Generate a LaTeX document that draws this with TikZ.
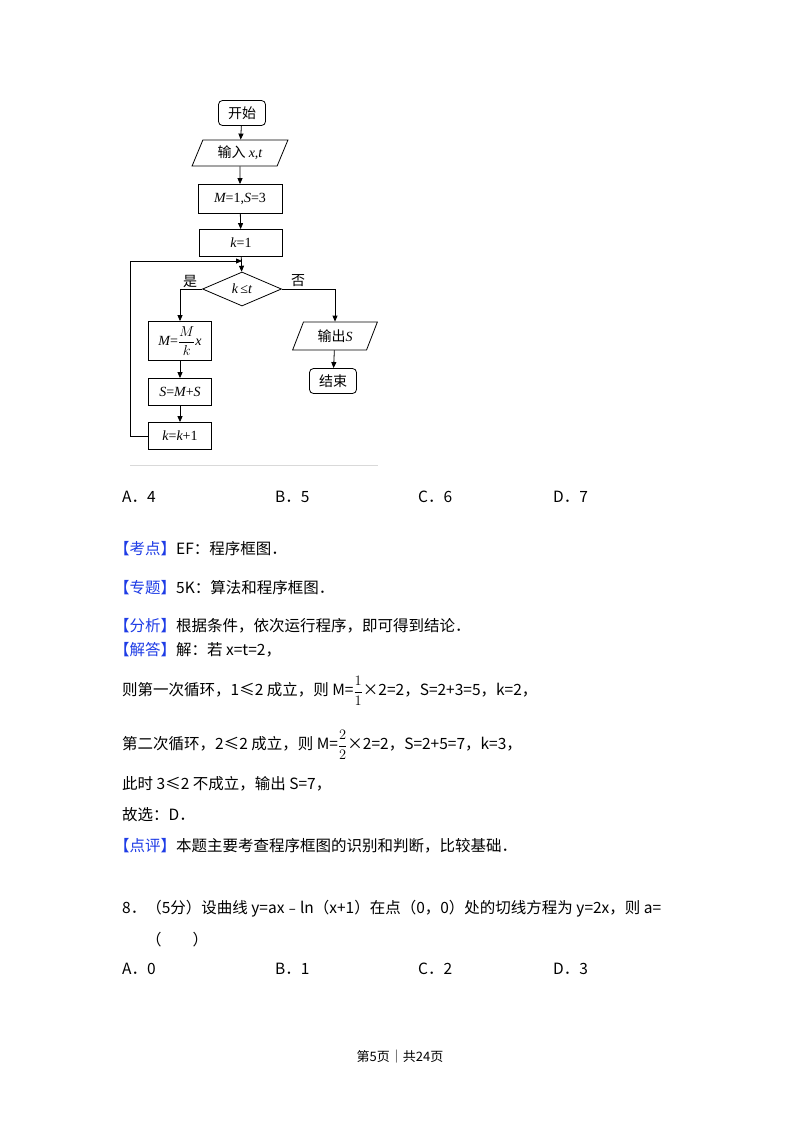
\documentclass[tikz,border=0pt]{standalone}
\usepackage{fontspec}
\setmainfont{Noto Sans CJK SC}
\newfontfamily\serifm{Liberation Serif}
\usetikzlibrary{shapes.geometric,arrows.meta}
\definecolor{kblue}{RGB}{30,60,230}
\begin{document}
\begin{tikzpicture}[x=1pt,y=-1pt,
  box/.style={draw,line width=0.8pt,minimum height=27pt,inner sep=0pt,font=\fontsize{14}{14}\selectfont},
  term/.style={box,rounded corners=4pt,minimum width=47pt,minimum height=25pt},
  io/.style={box,trapezium,trapezium left angle=65,trapezium right angle=115,trapezium stretches=true,minimum width=96pt,minimum height=26pt},
  arr/.style={-{Triangle[length=6pt,width=5pt]},line width=0.8pt},
  tx/.style={anchor=west,inner sep=0pt,font=\fontsize{15.5}{16}\selectfont},
  lb/.style={inner sep=0pt,font=\fontsize{14}{14}\selectfont}]
\useasboundingbox (0,0) rectangle (800,1133);
\fill[white] (0,0) rectangle (800,1133);
% flowchart
\node[term] (s) at (242,113) {开始};
\node[io] (in) at (240,153) {输入 {\serifm\itshape x,t}};
\node[box,minimum width=84pt,minimum height=29pt] (m1) at (240,199) {\serifm\itshape M\upshape=1,\itshape S\upshape=3};
\node[box,minimum width=83pt] (k1) at (241,243) {\serifm\itshape k\upshape=1};
\node[box,diamond,aspect=2.3,minimum width=79pt,minimum height=34pt] (d) at (242,289) {\serifm\itshape k\,\upshape≤\itshape t};
\node[box,minimum width=63pt,minimum height=39pt] (mm) at (180,341) {\serifm\itshape M\upshape=$\displaystyle\frac{M}{k}$\itshape x};
\node[box,minimum width=63pt] (ss) at (180,392) {\serifm\itshape S\upshape=\itshape M\upshape+\itshape S};
\node[box,minimum width=63pt] (kk) at (180,436) {\serifm\itshape k\upshape=\itshape k\upshape+1};
\node[io,minimum width=85pt,minimum height=28pt] (out) at (335,336) {输出{\serifm\itshape S}};
\node[term] (e) at (333,381) {结束};
\coordinate (j) at (242,261);
\coordinate (lc) at (130,261);
\draw[arr] (s) -- (in);
\draw[arr] (in) -- (m1);
\draw[arr] (m1) -- (k1);
\draw[arr] (k1) -- (d);
\draw[arr] (d.west) -| (mm.north);
\draw[arr] (d.east) -| (out.north);
\draw[arr] (mm) -- (ss);
\draw[arr] (ss) -- (kk);
\draw[arr] (out) -- (e);
\draw[line width=0.8pt] (kk.west) -| (lc);
\draw[arr] (lc) -- (j);
\node[lb] (yes) at (190,281) {是};
\node[lb] (no) at (298,281) {否};
\draw[gray!30,line width=0.5pt] (130,465) -- (378,465);
% text
\node[tx] (a1) at (122,497) {A．4};
\node[tx] (a2) at (275,497) {B．5};
\node[tx] (a3) at (418,497) {C．6};
\node[tx] (a4) at (553,497) {D．7};
\node[tx] (t1) at (114,549) {{\color{kblue}【考点】}EF：程序框图．};
\node[tx] (t2) at (114,588) {{\color{kblue}【专题】}5K：算法和程序框图．};
\node[tx] (t3) at (114,626) {{\color{kblue}【分析】}根据条件，依次运行程序，即可得到结论．};
\node[tx] (t4) at (114,650) {{\color{kblue}【解答】}解：若 x=t=2，};
\node[tx] (t5) at (122,691) {则第一次循环，1≤2 成立，则 M=$\displaystyle\frac{1}{1}$×2=2，S=2+3=5，k=2，};
\node[tx] (t6) at (122,745) {第二次循环，2≤2 成立，则 M=$\displaystyle\frac{2}{2}$×2=2，S=2+5=7，k=3，};
\node[tx] (t7) at (122,784) {此时 3≤2 不成立，输出 S=7，};
\node[tx] (t8) at (122,815) {故选：D．};
\node[tx] (t9) at (114,846) {{\color{kblue}【点评】}本题主要考查程序框图的识别和判断，比较基础．};
\node[tx] (q1) at (122,909) {8．（5分）设曲线 y=ax﹣ln（x+1）在点（0，0）处的切线方程为 y=2x，则 a=};
\node[tx] (q2) at (146,940) {（　　）};
\node[tx] (b1) at (122,969) {A．0};
\node[tx] (b2) at (275,969) {B．1};
\node[tx] (b3) at (418,969) {C．2};
\node[tx] (b4) at (553,969) {D．3};
\node[inner sep=0pt,font=\fontsize{13}{13}\selectfont] (pg) at (400,1057) {第5页｜共24页};
\end{tikzpicture}
\end{document}
